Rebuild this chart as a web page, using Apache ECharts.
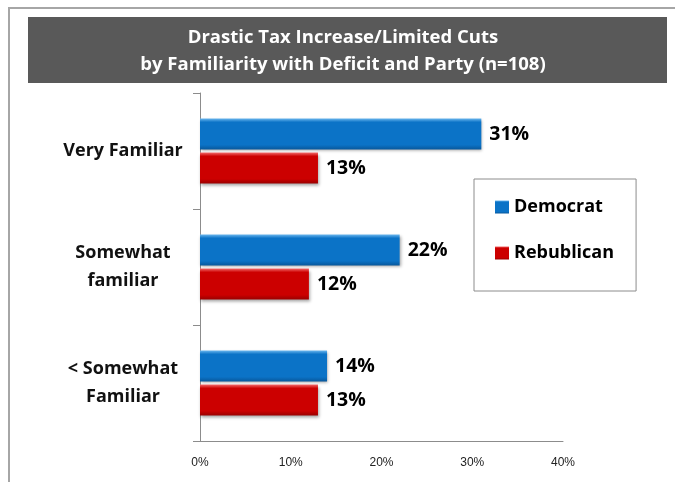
<!DOCTYPE html>
<html>
<head>
<meta charset="utf-8">
<script src="https://cdn.jsdelivr.net/npm/echarts@6/dist/echarts.min.js"></script>
<style>
  html, body { margin: 0; padding: 0; background: #fff; }
  #chart { width: 675px; height: 482px; }
</style>
</head>
<body>
<div id="chart"></div>
<script>
// Familiarity groups, top to bottom
const categories = ['Very Familiar', 'Somewhat\nfamiliar', '< Somewhat\nFamiliar'];
// Share choosing drastic tax increase / limited cuts (%)
const democrat = [31, 22, 14];
const republican = [13, 12, 13];
const seriesNames = ['Democrat', 'Rebublican'];
const xTicks = { min: 0, max: 40, interval: 10 };
const titleLines = ['Drastic Tax Increase/Limited Cuts', 'by Familiarity with Deficit and Party (n=108)'];

const FONT = '"Open Sans", Lato, sans-serif';

function bevel(light, main, dark) {
  return new echarts.graphic.LinearGradient(0, 0, 0, 1, [
    { offset: 0, color: light },
    { offset: 0.12, color: main },
    { offset: 0.85, color: main },
    { offset: 1, color: dark }
  ]);
}

const chart = echarts.init(document.getElementById('chart'), null, { renderer: 'canvas' });

const labelStyle = {
  show: true,
  position: 'right',
  distance: 8,
  formatter: '{c}%',
  fontFamily: FONT,
  fontWeight: 'bold',
  fontSize: 19.5,
  color: '#000'
};

chart.setOption({
  animation: false,
  backgroundColor: '#fff',
  graphic: [
    {
      type: 'polyline',
      shape: { points: [[9, 482], [9, 8], [675, 8]] },
      style: { stroke: '#a6a6a6', lineWidth: 2, fill: null },
      silent: true
    },
    {
      type: 'rect',
      shape: { x: 28, y: 17, width: 639, height: 66 },
      style: { fill: '#595959' },
      silent: true,
      z: 0
    },
    {
      type: 'text',
      x: 343,
      y: 51,
      style: {
        text: titleLines.join('\n'),
        fill: '#fff',
        font: 'bold 18.5px ' + FONT,
        lineHeight: 27,
        align: 'center',
        verticalAlign: 'middle'
      },
      silent: true,
      z: 1
    }
  ],
  grid: { left: 200, right: 112, top: 93, bottom: 41, containLabel: false },
  legend: {
    orient: 'vertical',
    left: 474,
    top: 179,
    padding: [17, 22, 27, 21],
    itemGap: 24,
    itemWidth: 14,
    itemHeight: 13,
    borderColor: '#8c8c8c',
    borderWidth: 1,
    icon: 'rect',
    textStyle: {
      fontFamily: FONT,
      fontWeight: 'bold',
      fontSize: 18,
      color: '#000',
      lineHeight: 22
    },
    data: seriesNames
  },
  xAxis: {
    type: 'value',
    min: xTicks.min,
    max: xTicks.max,
    interval: xTicks.interval,
    axisLine: { show: true, lineStyle: { color: '#8c8c8c', width: 1 } },
    axisTick: { show: false },
    splitLine: { show: false },
    axisLabel: {
      formatter: '{value}%',
      margin: 16,
      fontFamily: '"Liberation Sans", Arial, sans-serif',
      fontSize: 12,
      color: '#222'
    }
  },
  yAxis: {
    type: 'category',
    inverse: true,
    data: categories,
    axisLine: { show: true, lineStyle: { color: '#8c8c8c', width: 1 } },
    axisTick: { show: true, length: 7, lineStyle: { color: '#8c8c8c' } },
    axisLabel: {
      align: 'center',
      margin: 77,
      fontFamily: FONT,
      fontWeight: 'bold',
      fontSize: 18,
      lineHeight: 28,
      color: '#111'
    }
  },
  series: [
    {
      name: seriesNames[0],
      type: 'bar',
      data: democrat,
      barWidth: 31,
      barGap: '10%',
      itemStyle: {
        color: bevel('#6cb8ef', '#0b73c7', '#08589c'),
        shadowColor: 'rgba(0,0,0,0.35)',
        shadowBlur: 3,
        shadowOffsetX: 1,
        shadowOffsetY: 2
      },
      label: labelStyle
    },
    {
      name: seriesNames[1],
      type: 'bar',
      data: republican,
      barWidth: 31,
      barGap: '10%',
      itemStyle: {
        color: bevel('#f26a6a', '#cc0000', '#990000'),
        shadowColor: 'rgba(0,0,0,0.35)',
        shadowBlur: 3,
        shadowOffsetX: 1,
        shadowOffsetY: 2
      },
      label: labelStyle
    }
  ]
});
</script>
</body>
</html>
